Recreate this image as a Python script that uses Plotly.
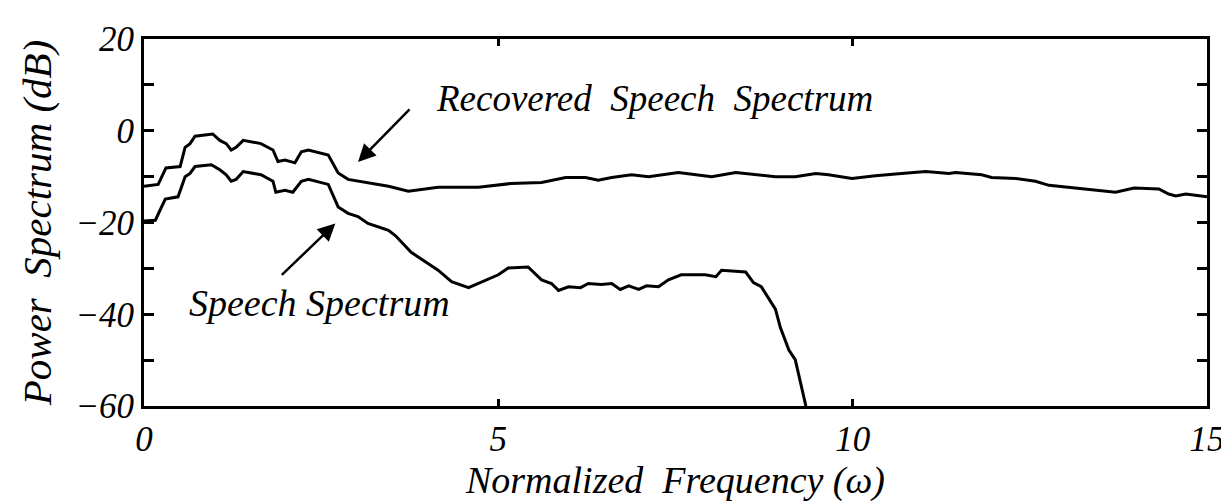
import plotly.graph_objects as go

# Recovered speech spectrum (upper curve)
rec_x = [0.0, 0.20, 0.31, 0.51, 0.58, 0.65, 0.72, 0.97, 1.07, 1.16, 1.23, 1.30, 1.40, 1.65, 1.82, 1.89,
         1.99, 2.13, 2.22, 2.32, 2.60, 2.74, 2.88, 3.12, 3.31, 3.45, 3.73, 4.15, 4.72, 5.18, 5.61, 5.95,
         6.23, 6.41, 6.60, 6.84, 6.88, 7.12, 7.54, 8.01, 8.35, 8.91, 9.19, 9.48, 9.66, 9.99, 10.18, 10.32,
         10.69, 11.03, 11.36, 11.45, 11.82, 11.96, 12.30, 12.58, 12.77, 13.15, 13.52, 13.71, 13.97, 14.32,
         14.46, 14.56, 14.70, 15.0]
rec_y = [-12.1, -11.7, -8.1, -7.8, -3.6, -2.8, -1.2, -0.7, -2.1, -2.8, -4.2, -3.6, -2.1, -2.8, -4.2, -6.7,
         -6.4, -7.0, -4.6, -4.2, -5.3, -9.2, -10.6, -11.3, -11.7, -12.1, -13.2, -12.3, -12.3, -11.5, -11.3, -10.2,
         -10.2, -10.8, -10.2, -9.8, -9.6, -10.0, -9.1, -10.0, -9.1, -10.0, -10.0, -9.3, -9.6, -10.4, -10.0, -9.8,
         -9.3, -8.9, -9.3, -9.1, -9.6, -10.2, -10.4, -11.0, -11.9, -12.5, -13.2, -13.4, -12.5, -12.7,
         -13.8, -14.2, -13.8, -14.4]

# Original speech spectrum (lower curve)
sp_x = [0.0, 0.16, 0.30, 0.48, 0.58, 0.65, 0.72, 0.95, 1.07, 1.16, 1.23, 1.30, 1.40, 1.65, 1.82, 1.86,
        1.99, 2.10, 2.22, 2.32, 2.60, 2.74, 2.88, 3.02, 3.16, 3.45, 3.55, 3.77, 4.15, 4.34, 4.58, 4.72,
        5.00, 5.14, 5.42, 5.61, 5.75, 5.85, 5.99, 6.16, 6.27, 6.45, 6.60, 6.72, 6.84, 6.98, 7.09, 7.26,
        7.40, 7.58, 7.92, 8.07, 8.15, 8.49, 8.60, 8.71, 8.91, 8.98, 9.10, 9.19, 9.28, 9.34]
sp_y = [-19.7, -19.5, -14.9, -14.4, -10.0, -9.3, -7.8, -7.4, -8.5, -9.6, -11.0, -10.6, -8.9, -9.6, -11.0, -13.4,
        -13.0, -13.4, -11.0, -10.6, -11.7, -16.6, -18.0, -18.7, -20.2, -21.7, -22.9, -26.5, -30.4, -32.9, -34.2, -33.3,
        -31.4, -29.9, -29.7, -32.5, -33.3, -34.8, -34.0, -34.2, -33.3, -33.5, -33.3, -34.6, -33.8, -34.6, -33.8, -34.0,
        -32.5, -31.4, -31.4, -31.8, -30.4, -30.8, -33.1, -34.0, -38.9, -42.9, -47.8, -49.9, -55.6, -60.0]

x_tickvals = [0, 5, 10, 15]
x_ticktext = ["0", "5", "10", "15"]
y_tickvals = [-60, -50, -40, -30, -20, -10, 0, 10, 20]
y_ticktext = ["\u221260", "", "\u221240", "", "\u221220", "", "0", "", "20"]

FONT = "Liberation Serif"
BLACK = "#000000"

fig = go.Figure()
fig.add_trace(go.Scatter(x=rec_x, y=rec_y, mode="lines", line=dict(color=BLACK, width=3),
                         name="Recovered Speech Spectrum", showlegend=False))
fig.add_trace(go.Scatter(x=sp_x, y=sp_y, mode="lines", line=dict(color=BLACK, width=3),
                         name="Speech Spectrum", showlegend=False))

axis_common = dict(showgrid=False, zeroline=False, showline=True, linecolor=BLACK, linewidth=3,
                   mirror="ticks", ticks="inside", tickcolor=BLACK, tickwidth=3,
                   ticklabeloverflow="allow",
                   tickfont=dict(family=FONT, size=35, color=BLACK, style="italic"))

fig.update_xaxes(range=[0, 15], tickvals=x_tickvals, ticktext=x_ticktext, ticklen=7,
                 title=dict(text="Normalized  Frequency (\u03c9)", standoff=7,
                            font=dict(family=FONT, size=38, color=BLACK, style="italic")),
                 **axis_common)
fig.update_yaxes(range=[-60, 20], tickvals=y_tickvals, ticktext=y_ticktext, ticklen=10,
                 title=dict(text="Power  Spectrum (dB)", standoff=12,
                            font=dict(family=FONT, size=41, color=BLACK, style="italic")),
                 **axis_common)

# arrows
fig.add_annotation(x=3.02, y=-6.8, ax=53, ay=-54, xref="x", yref="y", showarrow=True,
                   arrowhead=2, arrowsize=1.4, arrowwidth=2.5, arrowcolor=BLACK, text="")
fig.add_annotation(x=2.70, y=-20.2, ax=-55, ay=53, xref="x", yref="y", showarrow=True,
                   arrowhead=2, arrowsize=1.4, arrowwidth=2.5, arrowcolor=BLACK, text="")
# labels
fig.add_annotation(x=7.2, y=7.0, xref="x", yref="y", showarrow=False,
                   text="Recovered  Speech  Spectrum",
                   font=dict(family=FONT, size=37, color=BLACK, style="italic"))
fig.add_annotation(x=2.47, y=-37.6, xref="x", yref="y", showarrow=False,
                   text="Speech Spectrum",
                   font=dict(family=FONT, size=38, color=BLACK, style="italic"))

fig.update_layout(width=1229, height=504, margin=dict(l=136, r=29, t=20, b=106),
                  paper_bgcolor="white", plot_bgcolor="white",
                  font=dict(family=FONT, color=BLACK))

fig.write_html("out.html")
